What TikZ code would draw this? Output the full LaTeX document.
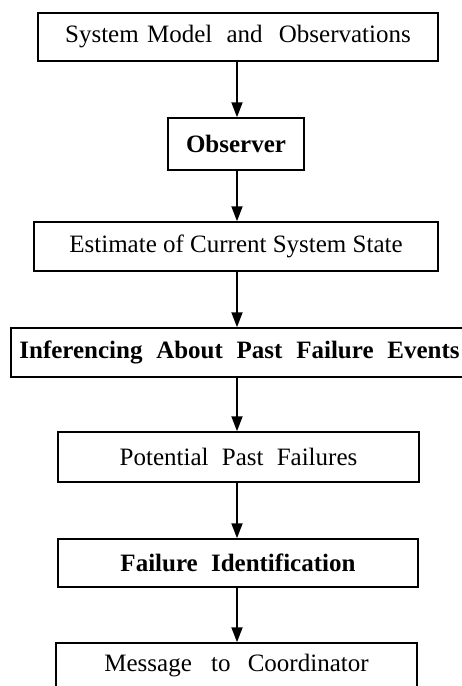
\documentclass[tikz,border=0pt]{standalone}
\usepackage{fontspec}
\setmainfont{Liberation Serif}
\usetikzlibrary{arrows.meta}
\tikzset{
  box/.style={draw=black, line width=1.5pt, rectangle, inner sep=0pt, align=center,
    font=\fontsize{25}{28}\selectfont},
  boldbox/.style={box, font=\fontsize{25}{28}\selectfont\bfseries},
  flow/.style={draw=black, line width=1.8pt, -{Triangle[length=15pt,width=11pt]}}
}
\begin{document}
\begin{tikzpicture}[x=1pt,y=-1pt]
\useasboundingbox (0,0) rectangle (462,686);
\clip (0,0) rectangle (462,686);
\node[box, minimum width=400pt, minimum height=48pt] (b1) at (238,37)
  {System\hspace{2pt} Model\hspace{8pt} and\hspace{10pt} Observations};
\node[boldbox, minimum width=136pt, minimum height=52pt] (b2) at (236,144) {Observer};
\node[box, minimum width=404pt, minimum height=49pt] (b3) at (236,246.5)
  {Estimate of Current System State};
\node[boldbox, minimum width=457pt, minimum height=49pt] (b4) at (239.5,352.5)
  {Inferencing\hspace{7.5pt} About\hspace{7.5pt} Past\hspace{7.5pt} Failure\hspace{7.5pt} Events};
\node[box, minimum width=361pt, minimum height=50pt] (b5) at (238.5,457)
  {Potential\hspace{7pt} Past\hspace{7pt} Failures};
\node[boldbox, minimum width=360pt, minimum height=48pt] (b6) at (238,563)
  {Failure\hspace{7pt} Identification};
\node[box, minimum width=361pt, minimum height=46pt] (b7) at (236.5,666)
  {Message\hspace{13pt} to\hspace{11pt} Coordinator};
\coordinate (ax) at (237,0);
\draw[flow] (b1.south -| ax) -- (b2.north -| ax);
\draw[flow] (b2.south -| ax) -- (b3.north -| ax);
\draw[flow] (b3.south -| ax) -- (b4.north -| ax);
\draw[flow] (b4.south -| ax) -- (b5.north -| ax);
\draw[flow] (b5.south -| ax) -- (b6.north -| ax);
\draw[flow] (b6.south -| ax) -- (b7.north -| ax);
\end{tikzpicture}
\end{document}
